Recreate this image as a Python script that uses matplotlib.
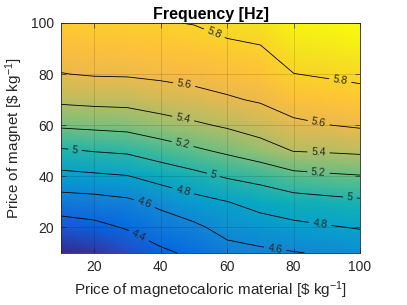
import numpy as np
import matplotlib

matplotlib.use("Agg")
import matplotlib.pyplot as plt
from matplotlib.colors import LinearSegmentedColormap

plt.rcParams["font.family"] = ["Liberation Sans", "DejaVu Sans"]
plt.rcParams["mathtext.default"] = "regular"

# Prices on both axes [$ kg^-1]
mcm_price = [10, 20, 30, 40, 50, 60, 70, 80, 90, 100]
magnet_price = [10, 20, 30, 40, 50, 60, 70, 80, 90, 100]

# Frequency [Hz], one list per magnetocaloric price, going up in magnet price
freq_by_mcm = {
    10: [4.120, 4.310, 4.511, 4.744, 4.977, 5.228, 5.439, 5.595, 5.679, 5.760],
    20: [4.170, 4.348, 4.528, 4.767, 5.009, 5.244, 5.456, 5.613, 5.692, 5.770],
    30: [4.266, 4.415, 4.564, 4.792, 5.031, 5.261, 5.463, 5.617, 5.698, 5.780],
    40: [4.368, 4.497, 4.648, 4.875, 5.101, 5.318, 5.503, 5.634, 5.712, 5.790],
    50: [4.432, 4.562, 4.734, 4.944, 5.167, 5.370, 5.542, 5.651, 5.728, 5.806],
    60: [4.533, 4.664, 4.796, 5.018, 5.233, 5.424, 5.581, 5.677, 5.765, 5.853],
    70: [4.563, 4.709, 4.869, 5.066, 5.309, 5.490, 5.618, 5.703, 5.788, 5.873],
    80: [4.590, 4.752, 4.921, 5.142, 5.406, 5.564, 5.686, 5.797, 5.880, 5.960],
    90: [4.620, 4.784, 4.946, 5.168, 5.419, 5.596, 5.710, 5.818, 5.900, 5.980],
    100: [4.654, 4.811, 4.969, 5.188, 5.435, 5.622, 5.735, 5.839, 5.925, 6.010],
}

contour_levels = [4.4, 4.6, 4.8, 5.0, 5.2, 5.4, 5.6, 5.8]
label_spots = [
    (56.4, 96.8), (94.0, 77.0),
    (46.8, 73.8), (87.5, 60.5),
    (46.8, 62.7), (87.5, 48.7),
    (46.6, 52.6), (87.5, 41.2),
    (14.2, 50.3), (55.9, 40.5), (97.0, 32.0),
    (46.8, 34.6), (88.0, 21.6),
    (35.3, 30.1), (74.4, 11.4),
    (32.8, 15.1),
]

# MATLAB parula, sampled
PARULA = [
    (0.2081, 0.1663, 0.5292), (0.2123, 0.2138, 0.6270), (0.1959, 0.2645, 0.7279),
    (0.1253, 0.3242, 0.8303), (0.0117, 0.3875, 0.8820), (0.0165, 0.4266, 0.8786),
    (0.0498, 0.4586, 0.8641), (0.0723, 0.4887, 0.8467), (0.0793, 0.5200, 0.8312),
    (0.0641, 0.5570, 0.8240), (0.0343, 0.5966, 0.8199), (0.0239, 0.6287, 0.8038),
    (0.0228, 0.6535, 0.7768), (0.0384, 0.6743, 0.7436), (0.0843, 0.6928, 0.7062),
    (0.1453, 0.7098, 0.6646), (0.2178, 0.7250, 0.6193), (0.3022, 0.7376, 0.5712),
    (0.3953, 0.7459, 0.5244), (0.4871, 0.7491, 0.4840), (0.5709, 0.7485, 0.4494),
    (0.6473, 0.7456, 0.4188), (0.7184, 0.7411, 0.3905), (0.7858, 0.7356, 0.3633),
    (0.8507, 0.7299, 0.3360), (0.9139, 0.7258, 0.3063), (0.9739, 0.7314, 0.2666),
    (0.9990, 0.7653, 0.2164), (0.9880, 0.8066, 0.1794), (0.9697, 0.8481, 0.1475),
    (0.9589, 0.8949, 0.1132), (0.9661, 0.9514, 0.0755), (0.9763, 0.9831, 0.0538),
]
parula = LinearSegmentedColormap.from_list("parula", PARULA)

X, Y = np.meshgrid(mcm_price, magnet_price)
Z = np.array([freq_by_mcm[p] for p in mcm_price]).T

fig = plt.figure(figsize=(4.07, 3.05), dpi=100)
ax = fig.add_axes([0.1499, 0.1705, 0.7346, 0.7541])

ax.pcolormesh(X, Y, Z, shading="gouraud", cmap=parula,
              vmin=Z.min(), vmax=Z.max(), rasterized=True)
cs = ax.contour(X, Y, Z, levels=contour_levels, colors="black", linewidths=0.6)
labels = ax.clabel(cs, fmt="%g", fontsize=7.5, inline=True, inline_spacing=4,
                   manual=label_spots)
for t in labels:
    t.set_color("0.15")

ax.set_xlim(10, 100)
ax.set_ylim(10, 100)
ax.set_xticks([20, 40, 60, 80, 100])
ax.set_yticks([20, 40, 60, 80, 100])
ax.grid(True, color="black", alpha=0.18, linewidth=0.5)
ax.set_axisbelow(False)
ax.tick_params(direction="in", top=True, right=True, length=3.5, width=0.5,
               labelsize=10, colors="0.15", pad=5)
for spine in ax.spines.values():
    spine.set_color("0.15")
    spine.set_linewidth(0.6)

ax.set_title("Frequency [Hz]", fontsize=11.5, fontweight="bold", pad=3)
ax.set_xlabel(r"Price of magnetocaloric material [\$ kg$^{-1}$]", fontsize=11,
              color="0.15", labelpad=4)
ax.set_ylabel(r"Price of magnet [\$ kg$^{-1}$]", fontsize=11,
              color="0.15", labelpad=4)

fig.savefig("out.png", dpi=100)
